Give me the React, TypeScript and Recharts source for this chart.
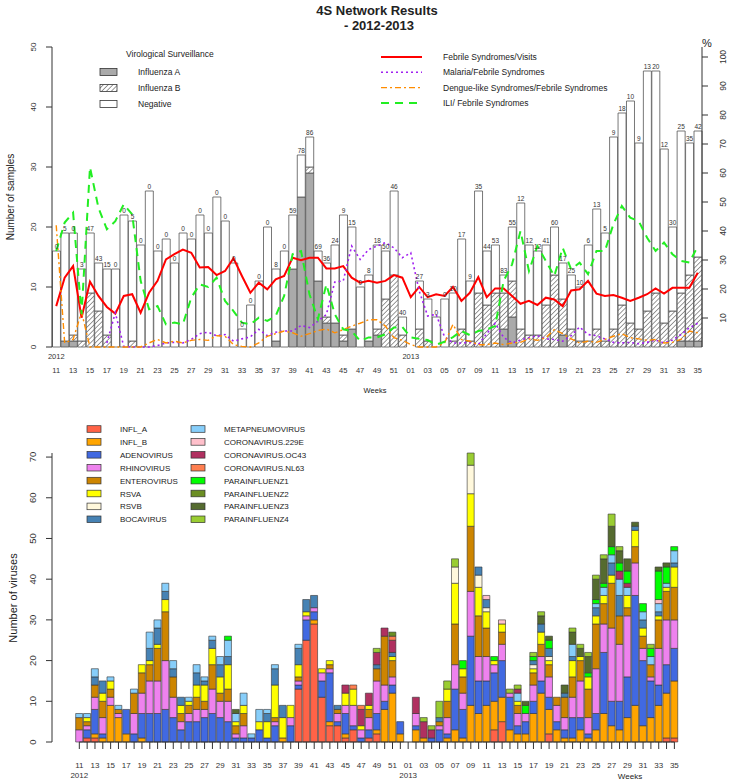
import React from 'react';
import {
  ComposedChart, BarChart, Bar, Line, XAxis, YAxis, LabelList, ReferenceLine,
} from 'recharts';

const FONT = '"Liberation Sans", Arial, Helvetica, sans-serif';
const INK = '#333';

// ---- weeks on the x axis ----
const weeks2012 = [
  '11', '12', '13', '14', '15', '16', '17', '18', '19', '20', '21', '22', '23', '24', '25', '26', '27', '28', '29', '30',
  '31', '32', '33', '34', '35', '36', '37', '38', '39', '40', '41', '42', '43', '44', '45', '46', '47', '48', '49', '50',
  '51', '52',
];
const weeks2013 = [
  '01', '02', '03', '04', '05', '06', '07', '08', '09', '10', '11', '12', '13', '14', '15', '16', '17', '18', '19', '20',
  '21', '22', '23', '24', '25', '26', '27', '28', '29', '30', '31', '32', '33', '34', '35',
];
const weekKeys = [...weeks2012.map((w) => `2012-${w}`), ...weeks2013.map((w) => `2013-${w}`)];
const yearStartKeys = ['2012-11', '2013-01'];

// ---- top panel: virological surveillance (left axis) ----
const samplesTotal = [
  16, 19, 19, 13, 19, 14, 13, 13, 22, 21, 17, 26, 16, 18, 14, 19, 18, 22, 19, 25,
  21, 14, 3, 7, 11, 20, 13, 16, 22, 32, 35, 16, 14, 17, 22, 20, 10, 12, 17, 16, 26, 5,
  0, 11, 8, 5, 8, 9, 18, 11, 26, 16, 17, 12, 20, 24, 17, 16, 17, 20, 14, 12,
  10, 17, 23, 19, 35, 39, 41, 34, 46, 46, 33, 20, 36, 34, 36,
];
const influenzaA = [
  0, 1, 1, 0, 0, 0, 0, 0, 0, 0, 0, 0, 0, 0, 0, 0, 0, 0, 0, 0,
  0, 0, 0, 0, 0, 0, 1, 0, 13, 25, 29, 11, 4, 4, 1, 3, 0, 1, 2, 0, 0, 0,
  0, 0, 0, 0, 0, 0, 0, 0, 0, 0, 0, 3, 5, 0, 0, 0, 0, 0, 2, 0,
  0, 0, 0, 0, 0, 0, 0, 0, 0, 0, 0, 0, 1, 1, 1,
];
const influenzaB = [
  0, 0, 1, 1, 9, 6, 2, 0, 0, 1, 0, 0, 0, 0, 0, 0, 0, 0, 0, 0,
  0, 0, 0, 0, 0, 0, 0, 0, 0, 0, 1, 0, 1, 0, 1, 0, 0, 0, 1, 8, 12, 2,
  0, 3, 1, 0, 0, 1, 3, 1, 9, 7, 9, 6, 6, 3, 2, 2, 7, 12, 6, 3,
  1, 1, 3, 1, 3, 7, 4, 3, 6, 9, 4, 6, 8, 11, 14,
];
const sampleLabels = [
  '0', '5', '0', '3', '47', '43', '15', '0', '0', '5', '0', '0', '0', '0', '0', '0', '0', '0', '0', '0',
  '0', '0', '0', '0', '0', '0', '8', '0', '59', '78', '86', '69', '36', '24', '9', '15', '0', '8', '18', '50', '46', '40',
  '0', '27', '3', '0', '0', '10', '17', '9', '35', '44', '53', '83', '55', '12', '12', '12', '41', '60', '17', '25',
  '10', '6', '13', '5', '9', '18', '10', '9', '13', '20', '12', '30', '25', '35', '42',
];

// ---- top panel: syndromes, % (right axis) ----
const febrileVisits = [
  14.1, 23.9, 27.9, 10.1, 22.5, 17.6, 13.8, 11.5, 17.6, 18.2, 11.8, 18.7, 22.8, 30.2, 32, 33.6, 32.5, 27.4, 27.6, 24.8,
  26.2, 30.6, 24.5, 18.7, 22.2, 19.9, 23.3, 24.5, 30.8, 29.9, 30.8, 30.8, 27.1, 27.1, 27.9, 23.9, 22.2, 22.8, 22.2, 22.8, 24.8, 23.9,
  17.2, 20.7, 17.2, 18.2, 17.6, 20.7, 15.9, 18.7, 24.1, 17.2, 20.2, 20.2, 17.6, 14.9, 15.9, 14.5, 17.0, 16.4, 14.1, 19.5,
  19.9, 22.8, 18.4, 17.6, 17.9, 17.0, 15.9, 17.0, 18.2, 20.2, 18.4, 20.4, 20.4, 20.4, 25.6,
];
const malariaFebrile = [
  null, null, null, null, null, null, 1.4, 11.8, 0.2, 0, 0, 0, 0.5, 1.4, 1.6, 1.4, 2.6, 4.6, 5.1, 3.9,
  4.3, 2, 2.8, 3.5, 6.1, 3.9, 5.1, 5.5, 5.5, 7.4, 6.7, 8.9, 11.2, 22.4, 22.8, 34.8, 30.2, 33.6, 34.8, 36, 34.2, 30.8,
  32.5, 19.3, 10.7, 11.3, 3.5, 1.4, 1.4, 1.6, 0.8, 4.6, 8.2, 3.3, 1.4, 2.4, 3.2, 3.9, 2.8, 2.6, 2, 3.9,
  6.9, 4.3, 3.9, 2.8, 1.6, 1.4, 1.6, 1.1, 1.6, 2.4, 1.4, 2.4, 4.3, 6.6, 8.2,
];
const dengueFebrile = [
  42, 1.4, 2.6, 12, 0, 0, 0, 0, 0, 0, 0, 1.4, 2.6, 1.4, 2, 1.4, 2.3, 2.6, 2.3, 3.9,
  3.7, 0.8, 0.2, 0, 1.4, 3.7, 4.6, 5.5, 4.9, 3.7, 4.6, 5.7, 6.2, 4.9, 6, 7.2, 8.2, 9.4, 9.4, 7.2, 3.2, 2.3,
  0.8, 0, 0, 0, 1.4, 7.8, 2.6, 2, 0.8, 0.8, 1.4, 0.8, 1.4, 1.6, 2.8, 2.3, 3.2, 6, 4.6, 2.8,
  1.4, 2, 1.6, 2.6, 3.7, 4.6, 3.2, 2.8, 2.3, 2.6, 1.4, 1.6, 2.6, 5.5, 4.9,
];
const iliFebrile = [
  33.1, 42.9, 46.3, 11.3, 62, 48, 40.6, 43.4, 49.2, 45.7, 22.8, 13, 14.1, 7.8, 8.4, 7.8, 17, 21.6, 20.7, 23.9,
  15.9, 12.4, 8.4, 7.8, 10.1, 9, 10.7, 17.6, 32, 33.1, 18.2, 9.6, 21.6, 11.3, 6.1, 5.5, 2.1, 3.3, 3.3, 4.4, 6.7, 6.9,
  3.3, 2.8, 2.4, 0.8, 1.8, 3.4, 5.5, 4.1, 5.5, 6.1, 7.2, 22.8, 28.5, 40, 26.2, 34.8, 29.7, 24.5, 34.2, 26.8,
  29.1, 25.1, 33.1, 33.1, 42.3, 48.6, 44.6, 43.4, 37.7, 33.1, 36, 32, 29.7, 29.1, 34.8,
];

// ---- bottom panel: viruses detected per week ----
const inflA = [
  0, 1, 1, 0, 0, 0, 0, 0, 0, 0, 0, 0, 0, 0, 0, 0, 0, 0, 0, 0,
  0, 0, 0, 0, 0, 0, 0, 0, 13, 25, 29, 11, 4, 4, 1, 3, 0, 1, 2, 0, 0, 0,
  0, 0, 0, 0, 0, 0, 0, 0, 0, 0, 0, 3, 5, 0, 0, 0, 0, 0, 2, 0,
  0, 0, 0, 0, 0, 0, 0, 0, 0, 0, 0, 0, 0, 1, 1,
];
const inflB = [
  0, 0, 1, 1, 9, 6, 2, 0, 1, 0, 0, 0, 0, 0, 0, 0, 0, 0, 0, 0,
  0, 0, 0, 0, 0, 0, 1, 0, 0, 0, 1, 0, 1, 0, 1, 0, 0, 0, 1, 8, 12, 2,
  0, 3, 1, 0, 0, 1, 3, 1, 9, 7, 9, 7, 6, 3, 2, 2, 7, 12, 6, 3,
  1, 1, 3, 1, 3, 7, 4, 3, 6, 9, 4, 6, 9, 11, 14,
];
const adenovirus = [
  0, 2, 6, 1, 0, 0, 6, 2, 6, 7, 7, 8, 6, 3, 5, 5, 6, 7, 6, 5,
  1, 1, 1, 3, 1, 4, 0, 4, 1, 5, 2, 4, 12, 1, 5, 1, 1, 2, 4, 2, 2, 3,
  0, 1, 0, 1, 3, 1, 10, 7, 17, 8, 6, 7, 9, 8, 2, 3, 3, 3, 3, 2,
  2, 5, 3, 1, 4, 15, 6, 7, 10, 27, 16, 9, 5, 7, 8,
];
const rhinovirus = [
  3, 1, 3, 4, 2, 1, 0, 5, 5, 8, 8, 12, 5, 2, 2, 3, 2, 6, 4, 5,
  1, 3, 0, 0, 0, 1, 0, 2, 1, 1, 1, 2, 1, 2, 2, 5, 2, 3, 8, 4, 2, 0,
  0, 3, 0, 0, 1, 4, 6, 4, 11, 6, 6, 2, 4, 1, 3, 2, 4, 6, 5, 4,
  3, 5, 9, 4, 11, 7, 18, 14, 15, 8, 3, 1, 9, 11, 7,
];
const enterovirus = [
  3, 1, 3, 4, 2, 1, 0, 5, 5, 4, 8, 12, 5, 2, 2, 3, 2, 6, 2, 3,
  2, 3, 0, 0, 0, 1, 0, 0, 1, 0, 0, 0, 1, 1, 0, 0, 0, 2, 3, 12, 4, 0,
  0, 0, 0, 0, 1, 4, 10, 4, 16, 10, 7, 0, 3, 0, 2, 0, 3, 3, 3, 2,
  5, 5, 5, 7, 11, 5, 11, 7, 2, 4, 3, 3, 7, 7, 8,
];
const rsvA = [
  0, 1, 0, 2, 2, 0, 0, 0, 2, 1, 1, 3, 0, 2, 1, 3, 4, 4, 4, 6,
  1, 2, 0, 2, 4, 8, 5, 3, 3, 1, 0, 1, 1, 0, 3, 4, 1, 1, 0, 0, 1, 0,
  0, 0, 0, 0, 0, 3, 10, 2, 8, 7, 4, 1, 2, 0, 1, 0, 1, 3, 1, 0,
  0, 4, 1, 3, 2, 2, 2, 0, 3, 4, 2, 0, 1, 1, 5,
];
const rsvB = [
  0, 0, 0, 0, 0, 0, 0, 0, 0, 0, 0, 0, 0, 0, 0, 0, 0, 0, 0, 0,
  0, 0, 0, 0, 0, 0, 0, 0, 0, 0, 0, 0, 0, 0, 0, 0, 0, 0, 0, 0, 0, 0,
  0, 0, 0, 0, 0, 0, 4, 0, 7, 3, 1, 0, 0, 0, 0, 0, 1, 0, 1, 0,
  0, 0, 0, 0, 0, 0, 0, 0, 0, 0, 0, 0, 0, 0, 0,
];
const bocavirus = [
  0, 0, 2, 3, 0, 0, 0, 0, 0, 3, 4, 2, 2, 2, 0, 3, 1, 2, 3, 2,
  0, 0, 0, 0, 2, 4, 3, 0, 4, 3, 3, 0, 0, 1, 0, 0, 0, 0, 1, 0, 1, 0,
  0, 0, 0, 0, 1, 0, 0, 0, 0, 2, 2, 0, 0, 0, 0, 0, 1, 2, 2, 0,
  1, 1, 0, 0, 2, 0, 3, 5, 0, 1, 2, 0, 1, 0, 1,
];
const metapneumovirus = [
  1, 1, 2, 0, 1, 1, 0, 1, 0, 4, 2, 2, 2, 0, 1, 2, 1, 1, 2, 4,
  2, 3, 1, 3, 1, 1, 0, 0, 1, 0, 0, 0, 0, 0, 0, 0, 0, 0, 0, 0, 0, 0,
  0, 0, 0, 0, 0, 0, 0, 0, 0, 0, 0, 0, 0, 0, 2, 0, 0, 0, 0, 0,
  0, 3, 0, 0, 1, 2, 2, 4, 2, 0, 2, 2, 2, 1, 3,
];
const corona229E = [
  0, 0, 0, 0, 0, 0, 0, 0, 0, 0, 0, 0, 0, 0, 0, 0, 0, 0, 0, 0,
  0, 0, 0, 0, 0, 0, 0, 0, 0, 0, 0, 0, 0, 0, 0, 0, 0, 0, 0, 0, 0, 0,
  0, 0, 0, 0, 0, 0, 0, 0, 0, 0, 1, 0, 1, 0, 0, 0, 0, 0, 0, 0,
  0, 0, 0, 0, 0, 0, 0, 0, 0, 0, 0, 0, 1, 0, 0,
];
const coronaOC43 = [
  0, 0, 0, 0, 0, 0, 0, 0, 0, 0, 0, 0, 0, 0, 0, 0, 0, 0, 0, 0,
  0, 0, 0, 0, 0, 0, 0, 0, 0, 0, 0, 0, 0, 0, 2, 0, 4, 3, 3, 2, 3, 0,
  0, 4, 4, 2, 0, 0, 0, 0, 0, 0, 0, 0, 0, 0, 1, 0, 0, 0, 0, 0,
  0, 0, 0, 0, 0, 0, 0, 2, 1, 0, 0, 0, 0, 0, 0,
];
const coronaNL63 = [
  0, 0, 0, 0, 0, 0, 0, 0, 0, 0, 0, 0, 0, 0, 0, 0, 0, 0, 0, 0,
  0, 0, 0, 0, 0, 0, 0, 0, 0, 0, 0, 0, 0, 0, 0, 1, 1, 0, 0, 0, 1, 0,
  0, 0, 0, 0, 0, 0, 0, 0, 0, 0, 0, 0, 0, 0, 0, 0, 0, 0, 0, 0,
  0, 0, 0, 0, 0, 0, 0, 0, 0, 0, 0, 0, 0, 0, 0,
];
const parainfluenza1 = [
  0, 0, 0, 0, 0, 0, 0, 0, 0, 0, 0, 0, 0, 0, 0, 0, 0, 0, 0, 1,
  0, 0, 0, 0, 0, 0, 0, 0, 0, 0, 0, 0, 0, 0, 0, 0, 0, 0, 0, 0, 0, 0,
  0, 0, 0, 0, 0, 0, 0, 2, 0, 0, 0, 1, 0, 0, 0, 2, 1, 0, 2, 0,
  0, 0, 0, 1, 1, 1, 2, 2, 3, 0, 2, 2, 7, 4, 1,
];
const parainfluenza2 = [
  0, 0, 0, 0, 0, 0, 0, 0, 0, 0, 0, 0, 0, 0, 0, 0, 0, 0, 0, 0,
  0, 0, 0, 0, 0, 0, 0, 0, 0, 0, 0, 0, 0, 0, 0, 0, 0, 0, 0, 0, 1, 0,
  0, 0, 0, 0, 0, 0, 0, 0, 0, 0, 0, 0, 0, 0, 0, 0, 0, 0, 0, 0,
  0, 0, 0, 0, 0, 0, 0, 0, 0, 0, 0, 0, 0, 0, 0,
];
const parainfluenza3 = [
  0, 0, 0, 0, 0, 0, 0, 0, 0, 0, 0, 0, 0, 0, 0, 0, 0, 0, 0, 0,
  1, 0, 0, 0, 0, 0, 0, 0, 0, 0, 0, 0, 0, 0, 0, 0, 0, 0, 0, 0, 0, 0,
  0, 0, 0, 0, 0, 0, 0, 0, 0, 0, 0, 0, 0, 0, 0, 1, 0, 2, 1, 0,
  2, 3, 2, 4, 5, 6, 5, 3, 3, 1, 0, 0, 1, 1, 0,
];
const parainfluenza4 = [
  0, 0, 0, 0, 0, 0, 0, 0, 0, 0, 0, 0, 0, 0, 0, 0, 0, 0, 0, 0,
  0, 0, 0, 0, 0, 0, 0, 0, 0, 0, 0, 0, 0, 0, 0, 0, 0, 0, 1, 0, 0, 0,
  0, 0, 1, 1, 4, 2, 2, 0, 3, 0, 0, 0, 0, 1, 1, 0, 1, 1, 0, 0,
  0, 1, 1, 1, 1, 1, 3, 1, 0, 0, 0, 1, 0, 0, 0,
];

const virusSeries = [
  { key: 'INFL_A', color: '#FF6347', values: inflA },
  { key: 'INFL_B', color: '#FFA500', values: inflB },
  { key: 'ADENOVIRUS', color: '#4169E1', values: adenovirus },
  { key: 'RHINOVIRUS', color: '#EE82EE', values: rhinovirus },
  { key: 'ENTEROVIRUS', color: '#CD8500', values: enterovirus },
  { key: 'RSVA', color: '#FFFF00', values: rsvA },
  { key: 'RSVB', color: '#FFF8DC', values: rsvB },
  { key: 'BOCAVIRUS', color: '#4682B4', values: bocavirus },
  { key: 'METAPNEUMOVIRUS', color: '#87CEFA', values: metapneumovirus },
  { key: 'CORONAVIRUS.229E', color: '#FFC0CB', values: corona229E },
  { key: 'CORONAVIRUS.OC43', color: '#B03060', values: coronaOC43 },
  { key: 'CORONAVIRUS.NL63', color: '#FF7F50', values: coronaNL63 },
  { key: 'PARAINFLUENZ1', color: '#00FF00', values: parainfluenza1 },
  { key: 'PARAINFLUENZ2', color: '#6B8E23', values: parainfluenza2 },
  { key: 'PARAINFLUENZ3', color: '#556B2F', values: parainfluenza3 },
  { key: 'PARAINFLUENZ4', color: '#9ACD32', values: parainfluenza4 },
];

const syndromeLines = [
  { key: 'febrile', name: 'Febrile Syndromes/Visits', color: '#FF0000', width: 2, dash: undefined },
  { key: 'malaria', name: 'Malaria/Febrile Syndromes', color: '#A020F0', width: 1.6, dash: '2 3' },
  { key: 'dengue', name: 'Dengue-like Syndromes/Febrile Syndromes', color: '#FF8C00', width: 1.4, dash: '6 3 2 3' },
  { key: 'ili', name: 'ILI/ Febrile Syndromes', color: '#22EE22', width: 2, dash: '8 6' },
];

const topData = weekKeys.map((key, i) => ({
  key,
  fluA: influenzaA[i],
  fluB: influenzaB[i],
  negative: samplesTotal[i] - influenzaA[i] - influenzaB[i],
  label: sampleLabels[i],
  febrile: febrileVisits[i],
  malaria: malariaFebrile[i],
  dengue: dengueFebrile[i],
  ili: iliFebrile[i],
}));

const virusData = weekKeys.map((key, i) => {
  const row: Record<string, any> = { key };
  virusSeries.forEach((s) => { row[s.key] = s.values[i]; });
  return row;
});

// rotated (R style) y tick labels
const RotTick = (props: any) => {
  const { x, y, payload, fs } = props;
  return (
    <text x={x} y={y} transform={`rotate(-90 ${x} ${y})`} textAnchor="middle"
      fontSize={fs} fill={INK} fontFamily={FONT}>
      {payload.value}
    </text>
  );
};

const WeekTick = (props: any) => {
  const { x, y, payload, yearDy, weekDy, fs } = props;
  const [year, week] = String(payload.value).split('-');
  return (
    <g>
      {yearStartKeys.includes(payload.value) && (
        <text x={x} y={y + yearDy} textAnchor="middle" fontSize={fs} fill={INK} fontFamily={FONT}>{year}</text>
      )}
      {Number(week) % 2 === 1 && (
        <text x={x} y={y + weekDy} textAnchor="middle" fontSize={fs} fill={INK} fontFamily={FONT}>{week}</text>
      )}
    </g>
  );
};

const renderSampleLabel = (props: any) => {
  const { x, y, width, value } = props;
  return (
    <text x={x + width / 2} y={y - 2.5} textAnchor="middle" fontSize={6.5} fill={INK} fontFamily={FONT}>
      {value}
    </text>
  );
};

const Overlay = () => {
  const txt = { fill: '#222', fontFamily: FONT } as const;
  const boxRows = [
    { name: 'Influenza A', fill: '#AAAAAA' },
    { name: 'Influenza B', fill: 'url(#hatchB)' },
    { name: 'Negative', fill: '#fff' },
  ];
  return (
    <svg width={730} height={782} style={{ position: 'absolute', left: 0, top: 0, pointerEvents: 'none' }}>
      <text x={377} y={14.5} textAnchor="middle" fontSize={13} fontWeight="bold" {...txt}>4S Network Results</text>
      <text x={379} y={29.5} textAnchor="middle" fontSize={13} fontWeight="bold" {...txt}>- 2012-2013</text>
      <text x={707} y={47} textAnchor="middle" fontSize={11} {...txt}>%</text>
      <text x={14} y={197} transform="rotate(-90 14 197)" textAnchor="middle" fontSize={10} {...txt}>Number of samples</text>
      <text x={375} y={393} textAnchor="middle" fontSize={7.5} {...txt}>Weeks</text>
      <text x={17} y={598} transform="rotate(-90 17 598)" textAnchor="middle" fontSize={11} {...txt}>Number of viruses</text>
      <text x={630} y={778.5} textAnchor="middle" fontSize={8} {...txt}>Weeks</text>

      {/* top-left legend */}
      <text x={126} y={57} fontSize={8.5} {...txt}>Virological Surveillance</text>
      {boxRows.map((r, k) => (
        <g key={r.name}>
          <rect x={100} y={68.5 + k * 16} width={17} height={7} fill={r.fill} stroke={INK} strokeWidth={0.8} />
          <text x={138} y={75 + k * 16} fontSize={8.5} {...txt}>{r.name}</text>
        </g>
      ))}

      {/* top-right legend */}
      {syndromeLines.map((l, k) => (
        <g key={l.key}>
          <line x1={381} x2={422} y1={57 + k * 15.3} y2={57 + k * 15.3} stroke={l.color}
            strokeWidth={l.width} strokeDasharray={l.dash} />
          <text x={443} y={60 + k * 15.3} fontSize={8.5} {...txt}>{l.name}</text>
        </g>
      ))}

      {/* bottom legend */}
      {virusSeries.map((s, k) => {
        const col = k < 8 ? 0 : 1;
        const row = k % 8;
        const cy = 429 + row * 12.9;
        return (
          <g key={s.key}>
            <rect x={col ? 191 : 87} y={cy - 3.3} width={14} height={6.6} fill={s.color} stroke={INK} strokeWidth={0.7} />
            <text x={col ? 224 : 120} y={cy + 3} fontSize={8} {...txt}>{s.key}</text>
          </g>
        );
      })}
    </svg>
  );
};

export default function App() {
  return (
    <div style={{ position: 'absolute', left: 0, top: 0, width: 730, height: 782, background: '#fff', overflow: 'hidden' }}>
      <svg width={0} height={0} style={{ position: 'absolute' }}>
        <defs>
          <pattern id="hatchB" width={3.4} height={3.4} patternUnits="userSpaceOnUse" patternTransform="rotate(45)">
            <rect width={3.4} height={3.4} fill="#fff" />
            <line x1={0} y1={0} x2={0} y2={3.4} stroke="#333" strokeWidth={1} />
          </pattern>
        </defs>
      </svg>

      <div style={{ position: 'absolute', left: 0, top: 0 }}>
        <ComposedChart width={730} height={400} data={topData}
          margin={{ top: 47, right: 0, bottom: 0, left: 0 }} barCategoryGap="5.5%">
          <XAxis dataKey="key" height={53} interval={0} tickSize={0} tickMargin={0}
            axisLine={false} tickLine={false}
            tick={<WeekTick yearDy={12} weekDy={26} fs={7.5} />} />
          <YAxis yAxisId="left" width={52} domain={[0, 50]} ticks={[0, 10, 20, 30, 40, 50]}
            tickSize={6} tickMargin={10} stroke={INK} tick={<RotTick fs={8} />} />
          <YAxis yAxisId="right" orientation="right" width={28} domain={[0, 103.45]}
            ticks={[10, 20, 30, 40, 50, 60, 70, 80, 90, 100]}
            tickSize={6} tickMargin={18} stroke={INK} tick={<RotTick fs={8.5} />} />
          <Bar yAxisId="left" dataKey="fluA" stackId="s" fill="#AAAAAA" stroke="#555" strokeWidth={0.8} isAnimationActive={false} />
          <Bar yAxisId="left" dataKey="fluB" stackId="s" fill="url(#hatchB)" stroke="#555" strokeWidth={0.8} isAnimationActive={false} />
          <Bar yAxisId="left" dataKey="negative" stackId="s" fill="#fff" stroke="#555" strokeWidth={0.8} isAnimationActive={false}>
            <LabelList dataKey="label" content={renderSampleLabel} />
          </Bar>
          {syndromeLines.map((l) => (
            <Line key={l.key} yAxisId="right" type="linear" dataKey={l.key} stroke={l.color}
              strokeWidth={l.width} strokeDasharray={l.dash} dot={false} isAnimationActive={false} />
          ))}
        </ComposedChart>
      </div>

      <div style={{ position: 'absolute', left: 0, top: 400 }}>
        <BarChart width={730} height={382} data={virusData}
          margin={{ top: 53, right: 0, bottom: 0, left: 0 }} barCategoryGap="3.5%">
          <XAxis dataKey="key" height={40} interval={0} tickSize={7} tickMargin={0}
            axisLine={false} stroke={INK} padding={{ left: 23.4, right: 51.7 }}
            tick={<WeekTick yearDy={29} weekDy={19} fs={8} />} />
          <YAxis width={52} domain={[0, 71]} ticks={[0, 10, 20, 30, 40, 50, 60, 70]}
            tickSize={6} tickMargin={10} stroke={INK} tick={<RotTick fs={9.5} />} />
          <ReferenceLine segment={[{ x: weekKeys[0], y: 0 }, { x: weekKeys[weekKeys.length - 1], y: 0 }]}
            stroke={INK} strokeWidth={1} />
          {virusSeries.map((s) => (
            <Bar key={s.key} dataKey={s.key} stackId="v" fill={s.color} stroke="#333"
              strokeWidth={0.6} isAnimationActive={false} />
          ))}
        </BarChart>
      </div>

      <Overlay />
    </div>
  );
}
